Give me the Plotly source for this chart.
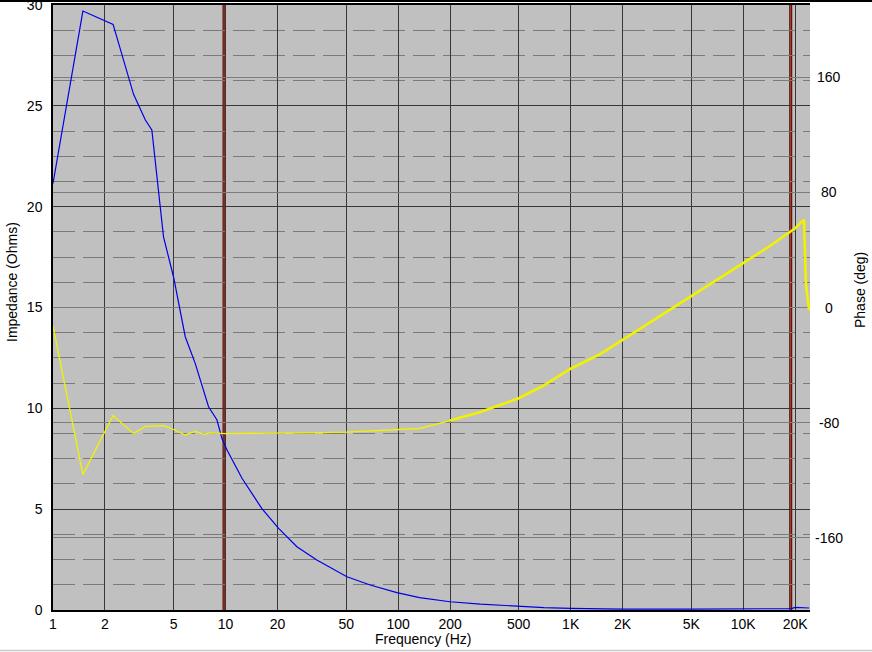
import plotly.graph_objects as go

# ---------------- data ----------------
imp_freq = [1, 1.49, 2.23, 2.93, 3.43, 3.74, 4.37, 5.0, 5.84, 6.67, 7.97, 8.92, 9.53, 10.2,
            12.45, 16.2, 20.3, 25.9, 33.8, 50.5, 68.9, 98.4, 133, 200, 300, 500, 700, 1000,
            1400, 2000, 5000, 10000, 10900, 19000, 20000, 23000, 24100]
impedance = [21.15, 29.7, 29.04, 25.57, 24.3, 23.8, 18.5, 16.5, 13.55, 12.23, 10.08, 9.42, 8.5, 7.93,
             6.53, 5.04, 4.05, 3.14, 2.48, 1.65, 1.24, 0.86, 0.61, 0.41, 0.29, 0.17, 0.12, 0.08,
             0.05, 0.04, 0.04, 0.04, 0.07, 0.07, 0.13, 0.13, 0.10]

phase_freq = [1, 1.49, 2.23, 2.93, 3.43, 4.37, 5.0, 5.84, 6.3, 6.7, 7.5, 8.2, 10, 15, 20, 30, 50,
              86, 133, 200, 300, 500, 700, 1000, 1500, 2000, 3000, 5000, 7000, 10000, 14000,
              20000, 22500, 23100, 24100]
phase = [-13, -116, -75, -87.5, -82.5, -82, -84.7, -88.5, -87, -86, -88, -87, -87.5, -87.5, -87.5,
         -87, -86.5, -85.4, -84, -78.5, -72.5, -63, -54, -42.5, -32, -22.5, -9, 8, 19, 31, 42,
         55, 61, 16, -2]

marker_freqs = [9.8, 18850]

x_tick_vals = [1, 2, 5, 10, 20, 50, 100, 200, 500, 1000, 2000, 5000, 10000, 20000]
x_tick_text = ["1", "2", "5", "10", "20", "50", "100", "200", "500", "1K", "2K", "5K", "10K", "20K"]
imp_ticks = [0, 5, 10, 15, 20, 25, 30]
phase_ticks = [-160, -80, 0, 80, 160]

FONT = "Liberation Sans"
fs = 14

fig = go.Figure()

fig.add_trace(go.Scatter(x=imp_freq, y=impedance, mode="lines",
                         line=dict(color="#0000e6", width=1.2), yaxis="y",
                         showlegend=False, hoverinfo="skip"))
# phase: thinner at low frequencies, thicker where the measured trace is noisy
split = next(i for i, f in enumerate(phase_freq) if f >= 200)
fig.add_trace(go.Scatter(x=phase_freq[:split + 1], y=phase[:split + 1], mode="lines",
                         line=dict(color="#f2f200", width=1.3), yaxis="y2",
                         showlegend=False, hoverinfo="skip"))
fig.add_trace(go.Scatter(x=phase_freq[split:], y=phase[split:], mode="lines",
                         line=dict(color="#f2f200", width=2.6), yaxis="y2",
                         showlegend=False, hoverinfo="skip"))

shapes = []
for f in marker_freqs:
    shapes.append(dict(type="line", xref="x", yref="paper", x0=f, x1=f, y0=0, y1=1,
                       line=dict(color="#3c0c06", width=3), layer="below"))
    shapes.append(dict(type="line", xref="x", yref="paper", x0=f, x1=f, y0=0, y1=1,
                       line=dict(color="#d8402c", width=1), layer="below"))

# window border lines
W, H = 872, 652
L, R, T, B = 53, 62, 5, 42
pw, ph = W - L - R, H - T - B
shapes.append(dict(type="line", xref="paper", yref="paper", x0=-L / pw, x1=(W - L) / pw,
                   y0=1 + (T - 1) / ph, y1=1 + (T - 1) / ph,
                   line=dict(color="black", width=2), layer="above"))
shapes.append(dict(type="line", xref="paper", yref="paper", x0=-L / pw, x1=(W - L) / pw,
                   y0=-(B - 1.5) / ph, y1=-(B - 1.5) / ph,
                   line=dict(color="#c8c8c8", width=1.5), layer="above"))

annotations = []
for v in phase_ticks:
    annotations.append(dict(x=(829 - L) / pw, xref="paper", y=v, yref="y2", text=str(v),
                            showarrow=False, xanchor="center", yanchor="middle",
                            font=dict(family=FONT, size=fs, color="black")))
annotations.append(dict(x=(423 - L) / pw, xref="paper", y=-(639 - (H - B)) / ph, yref="paper",
                        text="Frequency (Hz)", showarrow=False, xanchor="center", yanchor="middle",
                        font=dict(family=FONT, size=fs, color="black")))
annotations.append(dict(x=(12 - L) / pw, xref="paper", y=((H - B) - 282) / ph, yref="paper",
                        text="Impedance (Ohms)", textangle=-90, showarrow=False,
                        xanchor="center", yanchor="middle",
                        font=dict(family=FONT, size=fs, color="black")))
annotations.append(dict(x=(860 - L) / pw, xref="paper", y=((H - B) - 290) / ph, yref="paper",
                        text="Phase (deg)", textangle=-90, showarrow=False,
                        xanchor="center", yanchor="middle",
                        font=dict(family=FONT, size=fs, color="black")))

fig.update_layout(
    width=W, height=H,
    margin=dict(l=L, r=R, t=T, b=B, pad=0, autoexpand=False),
    paper_bgcolor="white", plot_bgcolor="#c0c0c0",
    font=dict(family=FONT, size=fs, color="black"),
    showlegend=False,
    xaxis=dict(type="log", range=[0, 4.387], tickvals=x_tick_vals, ticktext=x_tick_text,
               showgrid=True, gridcolor="#383838", gridwidth=1, automargin=False,
               showline=True, linecolor="black", linewidth=1.5, mirror=True,
               ticks="", ticklabeloverflow="allow",
               zeroline=False, tickfont=dict(family=FONT, size=fs, color="black")),
    yaxis=dict(range=[0, 30], tickvals=imp_ticks, showgrid=True, gridcolor="#383838",
               gridwidth=1, automargin=False, ticklabeloverflow="allow",
               minor=dict(dtick=1.25, showgrid=True, gridcolor="#7a7a7a", gridwidth=1,
                          griddash="22px,8px", ticks=""),
               showline=True, linecolor="black", linewidth=1.5,
               ticks="outside", ticklen=6, tickcolor="rgba(0,0,0,0)",
               zeroline=False, tickfont=dict(family=FONT, size=fs, color="black")),
    yaxis2=dict(range=[-210, 210], overlaying="y", side="right", tickvals=phase_ticks,
                showticklabels=False, showgrid=True, gridcolor="#7c7c7c", gridwidth=1,
                zeroline=False, showline=False, ticks="", automargin=False),
    shapes=shapes,
    annotations=annotations,
)

fig.write_html("out.html", config={"displayModeBar": False},
               post_script="document.body.style.margin='0';document.body.style.padding='0';")
